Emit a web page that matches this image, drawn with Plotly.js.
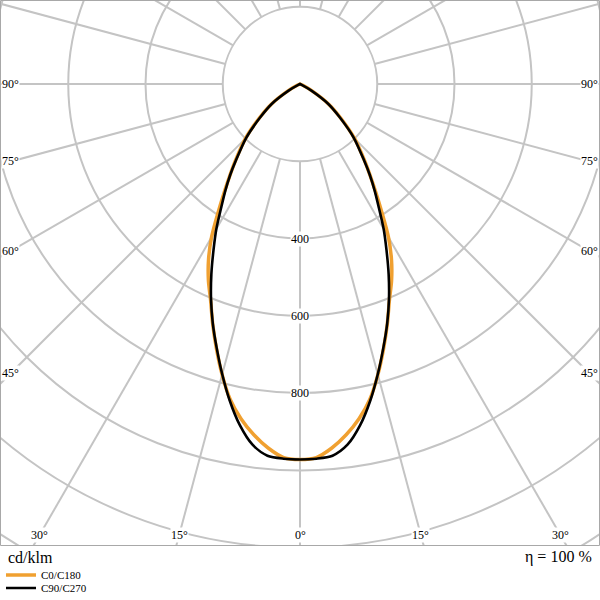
<!DOCTYPE html>
<html><head><meta charset="utf-8">
<script src="https://cdn.plot.ly/plotly-3.0.1.min.js"></script>
<style>
html,body{margin:0;padding:0;width:600px;height:600px;overflow:hidden;background:#fff;}
#chart{position:absolute;}
</style></head>
<body><div id="chart"></div>
<script>
// ---- data (cd/klm) ----
const gammaDeg = [0,2.5,5,7.5,10,12.5,15,17.5,20,22.5,25,27.5,30,32.5,35,37.5,40,45,50,55,60,65,70,75,80,85,90];
const c0c180  = [972,968,946,916,880,836,779,719,661,605,561,513,458,395,342,298,261,200,138,90,38,8,0,0,0,0,0];
const c90c270 = [972,971,966,942,897,840,778,717,660,602,543,485,433,380,337,297,258,197,135,88,33,5,0,0,0,0,0];
const seriesNames = ['C0/C180','C90/C270'];
const seriesColors = ['#F0A030','#000000'];
const radialGrid = [200,400,600,800,1000,1200,1400,1600];
const radialLabelVals = [400,600,800];
const angleLabelDeg = [0,15,30,45,60,75,90];
const unitText = 'cd/klm';
const effText = '\u03b7 = 100 %';

// ---- geometry ----
const RMAX = 1600;
const W = 1236;               // polar diameter in px
const K = (W/2)/RMAX;         // px per cd
const CX = 300, CY = 84;      // polar centre on the page
const L = CX - W/2, T = CY - W/2;
const el = document.getElementById('chart');
el.style.left = L + 'px'; el.style.top = T + 'px';
const px = X => (X - L)/W;
const py = Y => 1 - (Y - T)/W;
const FONT = 'Liberation Serif, Times New Roman, serif';
const GRID = '#c4c4c4';
const TXT = 'rgb(0,0,0)';

function mirror(vals){
  const th = [], r = [];
  for(let i = gammaDeg.length-1; i > 0; i--){ th.push(-gammaDeg[i]); r.push(vals[i]); }
  for(let i = 0; i < gammaDeg.length; i++){ th.push(gammaDeg[i]); r.push(vals[i]); }
  return {th, r};
}
const s0 = mirror(c0c180), s1 = mirror(c90c270);

const traces = [
  {type:'scatterpolar', subplot:'polar', r:s0.r, theta:s0.th, mode:'lines',
   line:{color:'rgba(0,0,0,0)', width:0}, showlegend:false, hoverinfo:'skip'},
  {type:'scatterpolar', subplot:'polar2', r:s0.r, theta:s0.th, mode:'lines', name:seriesNames[0],
   line:{color:seriesColors[0], width:3.5, shape:'spline', smoothing:0.8}, legend:'legend'},
  {type:'scatterpolar', subplot:'polar2', r:s1.r, theta:s1.th, mode:'lines', name:seriesNames[1],
   line:{color:seriesColors[1], width:2.6, shape:'spline', smoothing:0.8}, legend:'legend2'}
];

const annotations = [];
angleLabelDeg.forEach(g => {
  const rad = g*Math.PI/180, s = Math.sin(rad), c = Math.cos(rad);
  [-1, 1].forEach(side => {
    if(g === 0 && side === -1) return;
    const tS = s > 1e-9 ? (CX - 11)/s : Infinity;
    const tB = c > 1e-9 ? (535 - CY)/c : Infinity;
    const t = Math.min(tS, tB);
    const X = CX + side*s*t, Y = CY + c*t;
    annotations.push({xref:'paper', yref:'paper', x:px(X), y:py(Y), text:g+'\u00b0',
      showarrow:false, xanchor:'center', yanchor:'middle', bgcolor:'#ffffff', borderpad:0,
      font:{family:FONT, size:12, color:TXT}});
  });
});
radialLabelVals.forEach(v => {
  annotations.push({xref:'paper', yref:'paper', x:px(CX), y:py(CY + v*K), text:String(v),
    showarrow:false, xanchor:'center', yanchor:'middle', bgcolor:'#ffffff', borderpad:0,
    font:{family:FONT, size:12, color:TXT}});
});
annotations.push({xref:'paper', yref:'paper', x:px(6), y:py(557), text:unitText, showarrow:false,
  xanchor:'left', yanchor:'middle', font:{family:FONT, size:16, color:TXT}});
annotations.push({xref:'paper', yref:'paper', x:px(594), y:py(557), text:effText, showarrow:false,
  xanchor:'right', yanchor:'middle', font:{family:FONT, size:16, color:TXT}});

const angAxisBase = {rotation:-90, direction:'counterclockwise', showline:false,
  showticklabels:false, ticks:''};

const layout = {
  width:W, height:W, margin:{l:0,r:0,t:0,b:0}, paper_bgcolor:'#ffffff',
  font:{family:FONT, color:TXT},
  polar:{domain:{x:[0,1],y:[0,1]}, hole:200/RMAX, bgcolor:'#ffffff',
    radialaxis:{range:[200,RMAX], showgrid:false, showline:false, showticklabels:false, ticks:''},
    angularaxis:Object.assign({}, angAxisBase, {tickmode:'linear', tick0:0, dtick:15,
      showgrid:true, gridcolor:GRID, gridwidth:2})},
  polar2:{domain:{x:[0,1],y:[0,1]}, bgcolor:'rgba(0,0,0,0)',
    radialaxis:{range:[0,RMAX], tickmode:'array', tickvals:radialGrid, showgrid:true,
      gridcolor:GRID, gridwidth:2, showline:false, showticklabels:false, ticks:''},
    angularaxis:Object.assign({}, angAxisBase, {showgrid:false})},
  showlegend:true,
  legend:{x:px(1), y:py(575), xanchor:'left', yanchor:'middle', bgcolor:'rgba(0,0,0,0)',
    borderwidth:0, font:{family:FONT, size:11, color:TXT}},
  legend2:{x:px(1), y:py(588), xanchor:'left', yanchor:'middle', bgcolor:'rgba(0,0,0,0)',
    borderwidth:0, font:{family:FONT, size:11, color:TXT}},
  shapes:[
    {type:'rect', xref:'paper', yref:'paper', x0:px(-5), x1:px(610), y0:py(546), y1:py(610),
     fillcolor:'#ffffff', line:{width:0}, layer:'above'},
    {type:'rect', xref:'paper', yref:'paper', x0:px(0.5), x1:px(599.5), y0:py(545.5), y1:py(0.5),
     fillcolor:'rgba(0,0,0,0)', line:{color:'#a8a8a8', width:1}, layer:'above'}
  ],
  annotations:annotations
};

Plotly.newPlot(el, traces, layout, {staticPlot:true, displayModeBar:false});
</script>
</body></html>
